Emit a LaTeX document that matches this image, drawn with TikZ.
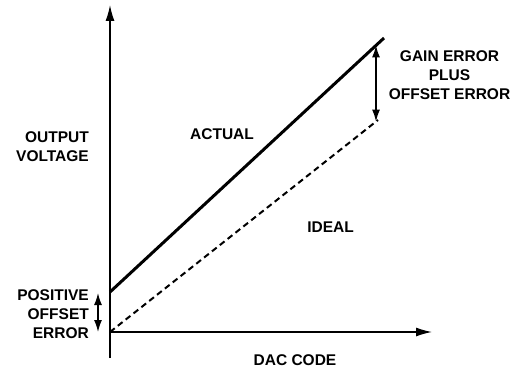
\documentclass[tikz,border=0pt]{standalone}
\usepackage{fontspec}
\setmainfont{Liberation Sans}
\usetikzlibrary{arrows.meta}

\begin{document}
\begin{tikzpicture}[x=1pt, y=1pt, >={Latex[length=16pt,width=9pt]},
		lbl/.style={font=\bfseries\fontsize{15.5}{19}\selectfont, inner sep=0pt},
		errarrow/.style={<->, >={Latex[length=12pt,width=8pt]}, line width=1.4pt}]
			\useasboundingbox (0,0) rectangle (524,373);

			% Points of the transfer lines
			\coordinate (origin) at (110,41);
			\coordinate (ybot) at (110,15);
			\coordinate (ytop) at (110,368);
			\coordinate (xend) at (432,41);
			\coordinate (actstart) at (110,81);
			\coordinate (actend) at (384,335);
			\coordinate (idealend) at (378,253);
			\coordinate (gaintop) at (376,327.6);
			\coordinate (gainbot) at (376,251.4);
			\coordinate (offtop) at (98,80);
			\coordinate (offbot) at (98,41);

			% Draw coordinate axes
			\draw[->, line width=1.4pt] (ybot) -- (ytop);
			\draw[->, line width=1.4pt] (origin) -- (xend);

			% Actual and ideal lines
			\draw[line width=3pt] (actstart) -- (actend);
			\draw[line width=2pt, dash pattern=on 6pt off 4pt] (origin) -- (idealend);

			% Error arrows
			\draw[errarrow] (gaintop) -- (gainbot);
			\draw[errarrow] (offtop) -- (offbot);

			% Labels
			\node[lbl, align=right, anchor=east] (outv) at (89,226) {OUTPUT\\VOLTAGE};
			\node[lbl] (actual) at (222,238.5) {ACTUAL};
			\node[lbl] (ideal) at (330.5,145.5) {IDEAL};
			\node[lbl] (dac) at (295,12.5) {DAC CODE};
			\node[lbl, align=center] (gain) at (449.5,298) {GAIN ERROR\\PLUS\\OFFSET ERROR};
			\node[lbl, align=right, anchor=east] (poserr) at (89,58.5) {POSITIVE\\OFFSET\\ERROR};
		\end{tikzpicture}
\end{document}
